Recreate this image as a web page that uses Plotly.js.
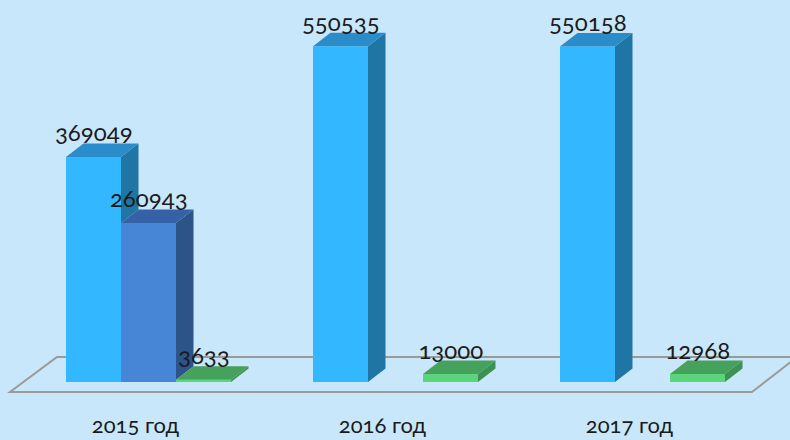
<!DOCTYPE html>
<html><head><meta charset="utf-8">
<script src="https://cdn.plot.ly/plotly-3.0.1.min.js"></script>
<style>
html,body{margin:0;padding:0;background:#C8E7FA;overflow:hidden;}
#chart{width:790px;height:440px;}
.main-svg text{font-variant-numeric:oldstyle-nums;font-feature-settings:"onum" 1;}
</style>
</head><body><div id="chart"></div>
<script>
// ---- data ----
const categories = ['2015 год', '2016 год', '2017 год'];
const series1 = [369049, 550535, 550158];
const series2 = [260943, null, null];
const series3 = [3633, 13000, 12968];
const seriesList = [series1, series2, series3];
const frontColors = ['#33B8FF', '#4785D6', '#5CD47B'];
const topColors   = ['#2A8DC9', '#3562A7', '#45A15C'];
const sideColors  = ['#1F75A3', '#2D5488', '#3D9253'];

// ---- geometry (pixel -> data) ----
const W = 790, H = 440;
const pxPerCat = 247, cat0px = 148.5, basePx = 382, unitsPerPx = 1640;
const barW = 55 / pxPerCat;
const dX = 17.5 / pxPerCat, dY = 13.5 * unitsPerPx;
const xRange = [-cat0px / pxPerCat, (W - cat0px) / pxPerCat];
const yRange = [-(H - basePx) * unitsPerPx, basePx * unitsPerPx];
const px2x = p => (p - cat0px) / pxPerCat;
const px2y = p => (basePx - p) * unitsPerPx;

const xs = categories.map((c, j) => j);
const traces = [];
const annotations = [];
const font = 'Lato, "Noto Sans", sans-serif';

seriesList.forEach((vals, i) => {
  const off = (i - 1.5) * barW;
  traces.push({
    type: 'bar', x: xs, y: vals, width: barW, offset: off,
    marker: {color: frontColors[i], line: {width: 0}},
    hoverinfo: 'skip', showlegend: false
  });
});

seriesList.forEach((vals, i) => {
  const off = (i - 1.5) * barW;
  const tx = [], ty = [], sx = [], sy = [];
  vals.forEach((v, j) => {
    if (v == null) return;
    const xl = j + off, xr = xl + barW;
    // top face
    tx.push(xl, xr, xr + dX, xl + dX, xl, null);
    ty.push(v, v, v + dY, v + dY, v, null);
    // side face (part hidden behind the next adjacent bar removed)
    let bottom = 0;
    if (i + 1 < seriesList.length && seriesList[i + 1][j] != null) {
      bottom = Math.min(v, seriesList[i + 1][j]);
    }
    sx.push(xr, xr, xr + dX, xr + dX, xr, null);
    sy.push(bottom, v, v + dY, bottom + dY, bottom, null);
    annotations.push({
      x: j + off + barW / 2, y: v, xref: 'x', yref: 'y',
      text: String(v), showarrow: false, yanchor: 'middle', yshift: 25,
      font: {family: font, size: 24, color: '#1a1a1a'}
    });
  });
  traces.push({type: 'scatter', x: sx, y: sy, mode: 'lines', fill: 'toself',
    fillcolor: sideColors[i], line: {width: 0, color: sideColors[i]}, hoverinfo: 'skip', showlegend: false});
  traces.push({type: 'scatter', x: tx, y: ty, mode: 'lines', fill: 'toself',
    fillcolor: topColors[i], line: {width: 0, color: topColors[i]}, hoverinfo: 'skip', showlegend: false});
});

categories.forEach((c, j) => {
  annotations.push({
    x: j - 13 / pxPerCat, y: px2y(424), xref: 'x', yref: 'y',
    text: c, showarrow: false, yanchor: 'middle',
    font: {family: font, size: 22, color: '#1a1a1a'}
  });
});

// floor outline
const fl = [px2x(10), px2y(392)], fr = [px2x(752), px2y(392)];
const br = [px2x(797), px2y(357)], bl = [px2x(57), px2y(357)];
const floorPath = `M${fl[0]},${fl[1]} L${fr[0]},${fr[1]} L${br[0]},${br[1]} L${bl[0]},${bl[1]} Z`;

const layout = {
  width: W, height: H,
  margin: {l: 0, r: 0, t: 0, b: 0, pad: 0},
  paper_bgcolor: '#C8E7FA', plot_bgcolor: '#C8E7FA',
  barmode: 'overlay',
  xaxis: {range: xRange, visible: false, fixedrange: true},
  yaxis: {range: yRange, visible: false, fixedrange: true},
  showlegend: false,
  shapes: [{type: 'path', path: floorPath, xref: 'x', yref: 'y', layer: 'below',
    line: {color: '#9A9A9A', width: 2}, fillcolor: 'rgba(0,0,0,0)'}],
  annotations: annotations
};

Plotly.newPlot('chart', traces, layout, {staticPlot: true, displayModeBar: false});
</script>
</body></html>
